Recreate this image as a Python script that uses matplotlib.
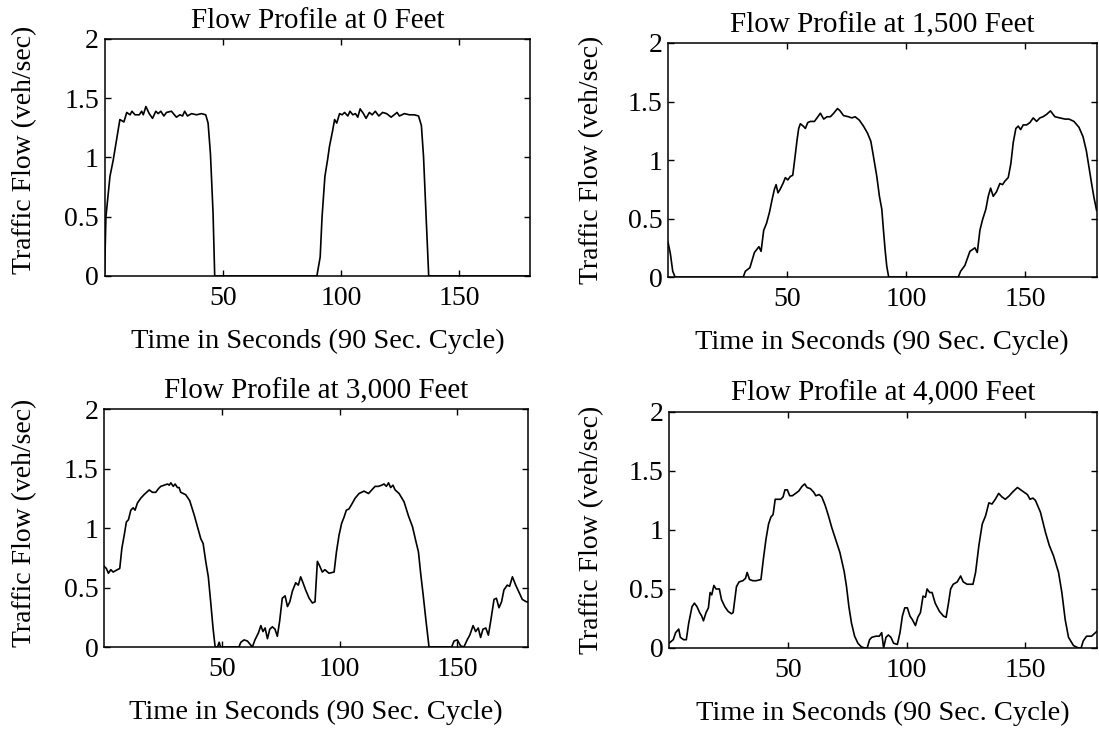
import matplotlib
matplotlib.use("Agg")
import matplotlib.pyplot as plt

# Flow profiles (time in s, flow in veh/sec)
t_0ft = [0, 0.6, 2.3, 3.7, 6.5, 8.2, 9.4, 10.8, 11.6, 12.9, 14.7, 15.7, 16.4, 17.5,
         18.9, 20.3, 21.7, 22.7, 23.8, 25.1, 26.2, 28.3, 30.4, 31.9, 33.0, 33.9,
         35.1, 36.8, 38.9, 41.0, 42.8, 43.8, 44.8, 45.9, 46.6, 89.8, 91.2, 92.0,
         93.2, 94.4, 95.1, 96.5, 97.3, 98.2, 99.4, 100.5, 101.5, 102.9, 103.8,
         105.0, 106.1, 107.1, 108.1, 109.5, 110.6, 112.0, 113.2, 114.5, 116.0,
         117.6, 119.3, 121.2, 122.5, 123.7, 124.7, 126.8, 128.9, 131.0, 132.8,
         134.0, 134.9, 136.0, 137.1, 180]
q_0ft = [0, 0.50, 0.84, 0.98, 1.32, 1.30, 1.38, 1.36, 1.39, 1.36, 1.36, 1.39, 1.36, 1.43,
         1.37, 1.33, 1.39, 1.37, 1.39, 1.35, 1.38, 1.39, 1.34, 1.36, 1.35, 1.39,
         1.35, 1.37, 1.36, 1.37, 1.36, 1.29, 1.03, 0.53, 0, 0, 0.16, 0.50,
         0.84, 0.99, 1.09, 1.23, 1.32, 1.29, 1.37, 1.36, 1.38, 1.35, 1.39,
         1.36, 1.37, 1.34, 1.41, 1.37, 1.33, 1.38, 1.36, 1.39, 1.35,
         1.38, 1.37, 1.34, 1.36, 1.38, 1.35, 1.37, 1.36, 1.36, 1.35,
         1.27, 1.01, 0.50, 0, 0]

t_1500ft = [0, 1, 2, 3, 31.6, 32.5, 34.4, 36.3, 38.2, 39.1, 40.2, 41.4, 42.7, 43.7,
            44.7, 45.4, 46.2, 47.1, 48.3, 49.3, 50.3, 51.4, 52.4, 53.2, 54.2, 54.9,
            55.6, 56.8, 57.7, 58.7, 59.8, 61.5, 62.6, 64.0, 65.4, 66.8, 68.2, 69.6,
            71.2, 72.3, 73.7, 75.8, 77.2, 78.6, 80.4, 82.1, 83.8, 85.2, 86.3, 87.7,
            88.8, 89.8, 90.5, 91.2, 91.9, 92.7, 121.9, 122.9, 124.7, 126.8, 128.9,
            129.9, 131.0, 132.1, 133.5, 134.5, 135.5, 136.6, 138.0, 139.4, 140.5,
            141.5, 142.9, 144.0, 145.0, 146.1, 147.1, 148.1, 149.2, 150.6, 152.0,
            153.4, 154.8, 156.2, 157.5, 159.0, 160.6, 162.5, 164.6, 166.7, 168.4,
            170.5, 172.6, 174.3, 175.7, 176.8, 177.9, 178.9, 180]
q_1500ft = [0.30, 0.20, 0.05, 0, 0, 0.05, 0.08, 0.21, 0.26, 0.22, 0.40, 0.46, 0.56, 0.66,
            0.75, 0.79, 0.72, 0.75, 0.80, 0.85, 0.83, 0.86, 0.87, 1.00, 1.17, 1.27,
            1.31, 1.29, 1.27, 1.32, 1.33, 1.33, 1.36, 1.40, 1.35, 1.37, 1.37, 1.40,
            1.44, 1.42, 1.38, 1.37, 1.36, 1.37, 1.34, 1.29, 1.23, 1.16, 1.03, 0.86,
            0.69, 0.58, 0.40, 0.23, 0.09, 0, 0, 0.05, 0.10, 0.22, 0.25,
            0.21, 0.40, 0.49, 0.58, 0.69, 0.76, 0.69, 0.73, 0.80, 0.79,
            0.82, 0.85, 0.97, 1.15, 1.27, 1.29, 1.26, 1.30, 1.30, 1.32,
            1.36, 1.33, 1.36, 1.37, 1.39, 1.42, 1.37, 1.36, 1.35, 1.35,
            1.33, 1.28, 1.20, 1.08, 0.94, 0.80, 0.68, 0.57]

t_3000ft = [0, 1.0, 1.9, 2.9, 3.9, 5.7, 6.7, 7.6, 8.6, 9.5, 10.4, 11.4, 12.4, 13.2,
            14.2, 15.6, 17.0, 19.2, 20.6, 22.0, 23.1, 24.1, 25.5, 27.0, 27.7, 28.4,
            29.4, 30.2, 31.2, 31.9, 32.6, 34.7, 36.4, 38.3, 39.7, 41.1, 42.1, 43.2,
            44.3, 45.3, 46.3, 47.2, 48.2, 48.9, 49.5, 57.3, 58.1, 59.5, 60.9, 63.0,
            64.1, 65.6, 66.6, 67.5, 68.4, 69.4, 70.4, 71.5, 72.6, 73.6, 74.6, 75.7,
            76.9, 77.9, 78.9, 80.0, 81.4, 82.5, 83.5, 84.5, 85.6, 87.1, 88.5, 89.6,
            90.6, 91.6, 92.7, 93.8, 95.5, 97.7, 98.7, 99.8, 100.9, 101.9, 102.9,
            104.0, 105.2, 106.6, 108.3, 110.4, 112.3, 113.7, 115.1, 116.5, 117.9,
            118.9, 119.9, 120.8, 121.7, 122.7, 123.6, 125.3, 127.4, 129.3, 131.0,
            132.4, 133.5, 134.5, 135.5, 136.6, 138.0, 147.6, 148.6, 150.0, 151.4,
            152.8, 154.2, 155.3, 156.7, 157.8, 158.9, 159.9, 160.9, 162.1, 163.2,
            164.2, 165.6, 166.6, 167.7, 168.8, 169.8, 171.2, 172.2, 173.4, 174.8,
            176.2, 177.6, 179.3, 180]
q_3000ft = [0.68, 0.66, 0.62, 0.65, 0.63, 0.65, 0.66, 0.83, 0.94, 1.05, 1.07, 1.15, 1.17, 1.15,
            1.21, 1.25, 1.28, 1.32, 1.30, 1.30, 1.33, 1.35, 1.36, 1.37, 1.36, 1.38,
            1.35, 1.37, 1.34, 1.34, 1.30, 1.28, 1.23, 1.11, 1.01, 0.91, 0.87, 0.72,
            0.59, 0.38, 0.16, 0, 0, 0.04, 0, 0, 0.04, 0.06, 0.05, 0,
            0.06, 0.12, 0.18, 0.13, 0.16, 0.07, 0.15, 0.17, 0.15, 0.09, 0.22, 0.41,
            0.43, 0.34, 0.38, 0.47, 0.54, 0.52, 0.59, 0.54, 0.48, 0.41, 0.37, 0.38,
            0.72, 0.68, 0.63, 0.65, 0.62, 0.63, 0.80, 0.94, 1.04, 1.09, 1.15,
            1.16, 1.20, 1.25, 1.29, 1.31, 1.29, 1.32, 1.35, 1.35, 1.36,
            1.37, 1.35, 1.38, 1.34, 1.36, 1.32, 1.29, 1.22, 1.10, 1.01,
            0.89, 0.80, 0.61, 0.44, 0.24, 0, 0, 0.05, 0.06, 0.01,
            0, 0.06, 0.10, 0.18, 0.13, 0.16, 0.08, 0.15, 0.16, 0.10,
            0.22, 0.40, 0.41, 0.33, 0.38, 0.48, 0.52, 0.51, 0.59, 0.52,
            0.46, 0.40, 0.38, 0.38]

t_4000ft = [0, 1.8, 2.8, 4.1, 4.8, 6.2, 7.3, 8.3, 9.7, 10.7, 11.8, 12.9, 13.8, 14.5,
            15.6, 16.6, 17.3, 18.0, 18.9, 19.8, 21.2, 22.1, 23.5, 24.9, 26.3, 27.0,
            28.4, 29.5, 31.1, 32.2, 32.9, 33.9, 35.3, 36.7, 38.7, 39.7, 40.8, 41.9,
            42.9, 43.8, 44.7, 45.6, 47.0, 48.0, 48.8, 49.8, 50.8, 51.9, 53.3, 54.6,
            56.0, 57.1, 58.1, 59.5, 60.9, 61.8, 63.2, 64.3, 65.7, 67.1, 68.5, 70.1,
            71.9, 73.7, 74.7, 75.7, 76.8, 78.1, 79.5, 80.9, 82.3, 83.4, 84.4, 85.3,
            87.1, 88.5, 89.5, 90.3, 91.3, 92.3, 93.4, 94.5, 96.1, 97.2, 98.2, 99.2,
            100.3, 101.4, 102.4, 103.7, 104.7, 105.8, 106.9, 107.9, 108.6, 109.7,
            110.7, 112.0, 113.8, 115.5, 116.6, 117.6, 118.5, 119.6, 121.3, 122.7,
            123.8, 125.4, 127.9, 129.0, 130.4, 131.8, 133.2, 134.6, 135.9, 137.3,
            138.7, 140.1, 141.5, 143.2, 144.5, 146.6, 148.7, 150.8, 151.9, 153.1,
            154.2, 156.3, 158.4, 160.0, 161.8, 163.9, 165.3, 166.7, 168.1, 170.2,
            172.3, 173.4, 174.3, 175.7, 177.8, 179.4, 180]
q_4000ft = [0.04, 0.07, 0.13, 0.16, 0.09, 0.07, 0.07, 0.21, 0.35, 0.38, 0.35, 0.30, 0.27, 0.23,
            0.30, 0.34, 0.47, 0.45, 0.53, 0.50, 0.50, 0.41, 0.35, 0.31, 0.29, 0.30,
            0.52, 0.56, 0.57, 0.59, 0.64, 0.58, 0.57, 0.57, 0.58, 0.75, 0.92, 1.05,
            1.11, 1.13, 1.26, 1.26, 1.26, 1.28, 1.34, 1.34, 1.29, 1.29, 1.31, 1.33,
            1.37, 1.39, 1.36, 1.35, 1.32, 1.29, 1.30, 1.28, 1.21, 1.12, 1.02, 0.92,
            0.81, 0.65, 0.52, 0.35, 0.21, 0.10, 0.04, 0.01, 0, 0, 0.07, 0.09,
            0.10, 0.10, 0.13, 0, 0.09, 0.11, 0.09, 0.04, 0.03, 0.13, 0.27, 0.34,
            0.34, 0.27, 0.24, 0.19, 0.26, 0.30, 0.44, 0.43, 0.50, 0.47,
            0.47, 0.38, 0.31, 0.27, 0.26, 0.38, 0.50, 0.54, 0.56, 0.61,
            0.56, 0.54, 0.54, 0.64, 0.87, 1.05, 1.12, 1.23, 1.22, 1.26,
            1.31, 1.28, 1.26, 1.29, 1.32, 1.36, 1.33, 1.30, 1.26, 1.27,
            1.25, 1.15, 0.98, 0.87, 0.78, 0.64, 0.47, 0.24, 0.09, 0.02,
            0, 0, 0.06, 0.10, 0.10, 0.13, 0.14]

titles = ["Flow Profile at 0 Feet", "Flow Profile at 1,500 Feet",
          "Flow Profile at 3,000 Feet", "Flow Profile at 4,000 Feet"]
x_ticks = [50, 100, 150]
y_ticks = [0, 0.5, 1, 1.5, 2]
y_tick_labels = ["0", "0.5", "1", "1.5", "2"]

plt.rcParams['font.family'] = ['Liberation Serif', 'DejaVu Serif']

fig = plt.figure(figsize=(10.99, 7.35), dpi=100)

# axes boxes (left, bottom, width, height)
boxes = [[0.0951, 0.6245, 0.3873, 0.3225],
         [0.6078, 0.6230, 0.3900, 0.3185],
         [0.0946, 0.1197, 0.3858, 0.3238],
         [0.6087, 0.1184, 0.3893, 0.3211]]
# where the y label sits (axes fraction), as in the scan
ylabel_pos = [(-0.158, 0.53), (-0.149, 0.50), (-0.158, 0.52), (-0.152, 0.50)]
series = [(t_0ft, q_0ft), (t_1500ft, q_1500ft), (t_3000ft, q_3000ft), (t_4000ft, q_4000ft)]

for box, (t, q), title, (lx, ly) in zip(boxes, series, titles, ylabel_pos):
    ax = fig.add_axes(box)
    ax.plot(t, q, color='black', linewidth=1.2)
    ax.set_xlim(0, 180)
    ax.set_ylim(0, 2)
    ax.set_xticks(x_ticks)
    ax.set_yticks(y_ticks)
    ax.set_yticklabels(y_tick_labels)
    ax.tick_params(direction='in', length=4, width=1, top=True, right=True,
                   labelsize=20)
    ax.tick_params(axis='x', pad=7)
    ax.tick_params(axis='y', pad=4)
    for s in ax.spines.values():
        s.set_linewidth(1.1)
    ax.set_title(title, fontsize=21, pad=8)
    ax.set_xlabel("Time in Seconds (90 Sec. Cycle)", fontsize=20.5, labelpad=13)
    ax.set_ylabel("Traffic Flow (veh/sec)", fontsize=20)
    ax.yaxis.set_label_coords(lx, ly)

fig.savefig("out.png", dpi=100)
